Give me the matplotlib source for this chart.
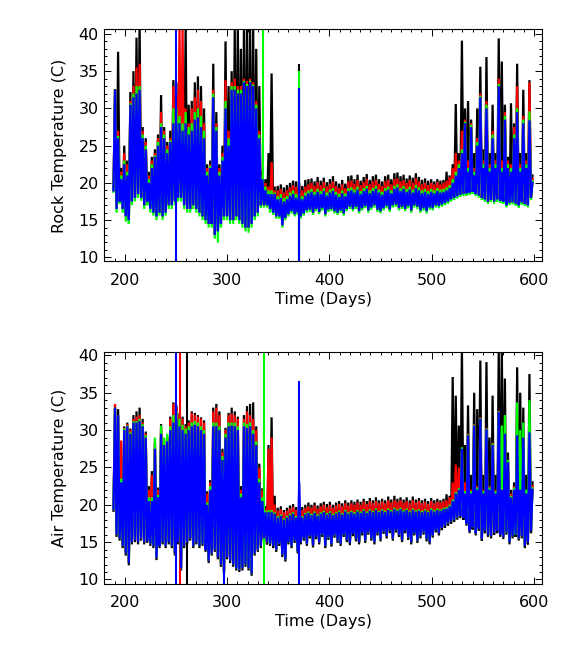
import numpy as np
import matplotlib
matplotlib.use("Agg")
import matplotlib.pyplot as plt
from matplotlib.ticker import MultipleLocator

# sample days (one daily low / daily high pair every 3 days)
days = np.arange(189, 598, 3)

# ---- Rock temperature (top panel) ----
rock_blue_hi = [32.5, 26, 20.5, 22.5, 21, 30.5, 31.5, 32, 32.5, 26,
                24.5, 20, 22, 23.5, 25, 27.5, 26, 24, 25.5, 28,
                28, 28, 27, 28, 26.5, 27, 28.5, 28.8, 27.5, 26,
                21, 22, 31.5, 27, 21, 23, 30, 25, 32.5, 32.5,
                32, 32, 33.5, 33, 33.5, 33, 30, 26, 20.5, 19,
                18.5, 18.5, 18.5, 17.8, 18, 17.5, 17.8, 18.3, 18.5, 18,
                18.2, 17.8, 18.3, 18.6, 18.8, 18.4, 18.8, 18.5, 18.9, 18.3,
                18.7, 18.9, 18.4, 18.1, 18.6, 18.2, 18.9, 19, 18.7, 19.1,
                18.5, 18.9, 19.2, 18.6, 18.9, 19.2, 18.7, 18.4, 18.9, 19.1,
                18.6, 19.2, 19.4, 18.9, 19.2, 18.8, 19.1, 18.7, 19.3, 19,
                18.6, 18.8, 18.5, 18.8, 18.6, 18.9, 18.7, 18.8, 19, 19.3,
                20, 21, 22, 24, 28, 21.5, 27.5, 21, 25, 31.5,
                22, 30, 21.5, 26, 22, 33, 21.5, 28.5, 22, 21.5,
                26, 29.5, 21.5, 28, 22, 28.4, 20]
rock_red_hi = [32.5, 27, 21.5, 24, 22.5, 31, 33, 35.5, 36, 27,
               25.5, 21, 23, 24, 26, 29.5, 27, 25, 26, 33,
               32, 41, 41, 30, 28, 30, 31.5, 32.5, 31, 28,
               22, 22.5, 32.5, 28, 22, 24, 33.8, 27, 33.5, 34,
               33, 33, 34, 33.7, 34, 33.5, 31, 27, 21, 20,
               19.5, 22.8, 19, 19, 19.2, 18.7, 19, 19.4, 19.7, 19.5,
               19.5, 19, 19.5, 19.8, 20, 19.6, 20.1, 19.7, 20.1, 19.5,
               19.9, 20.2, 19.6, 19.3, 19.8, 19.3, 20.2, 20.3, 19.9, 20.4,
               19.7, 20.1, 20.5, 19.8, 20.2, 20.4, 19.9, 19.6, 20.2, 20.4,
               19.8, 20.5, 20.6, 20.2, 20.4, 20, 20.4, 20, 20.6, 20.2,
               19.8, 20, 19.7, 20, 19.8, 20.1, 19.8, 20, 20.3, 20.8,
               22, 24, 23, 27, 28.5, 23, 28, 22, 26, 32,
               23, 31, 22.5, 27, 23, 34, 23, 29.5, 23, 22.5,
               27.5, 33, 22.5, 29, 23, 33.5, 20.5]
rock_green_hi = [32.5, 26.3, 21, 23, 21.5, 30.7, 32, 33, 33, 26.5,
                 25, 20.5, 22.5, 23.7, 25.5, 28, 26.5, 24.5, 25.7, 30,
                 30, 29, 28, 29.5, 27.5, 28, 29.5, 30, 29, 27,
                 21.5, 22.3, 32, 27.5, 21.5, 23.5, 31, 26, 33, 33,
                 32.5, 32.5, 33.7, 33.3, 33.7, 33.2, 30.5, 26.5, 20.7, 19.5,
                 19, 19, 18.7, 18.2, 18.5, 18, 18.2, 18.7, 19, 18.5,
                 18.6, 18.2, 18.7, 19, 19.2, 18.8, 19.2, 18.9, 19.3, 18.7,
                 19.1, 19.3, 18.8, 18.5, 19, 18.6, 19.3, 19.4, 19.1, 19.5,
                 18.9, 19.3, 19.6, 19, 19.3, 19.6, 19.1, 18.8, 19.3, 19.5,
                 19, 19.6, 19.8, 19.3, 19.6, 19.2, 19.5, 19.1, 19.7, 19.4,
                 19, 19.2, 18.9, 19.2, 19, 19.3, 19.1, 19.2, 19.4, 19.7,
                 20.5, 21.5, 22.5, 24.5, 28.2, 22, 27.8, 21.5, 25.5, 31.7,
                 22.5, 30.5, 22, 26.5, 22.5, 33.3, 22, 29, 22.5, 22,
                 26.5, 30, 22, 28.5, 22.5, 29.6, 20.2]
rock_black_hi = [32.6, 37.6, 22, 25, 23, 32.2, 35, 39.5, 41.5, 27.5,
                 26, 21.5, 23.5, 24.5, 26.5, 31.8, 27.5, 25.5, 27, 33.8,
                 33.5, 30, 29.5, 41, 30.5, 31, 33.5, 34.3, 33, 30,
                 22.5, 23, 36, 29.5, 22.5, 25, 39, 33, 35, 41,
                 41, 38, 41, 41, 41, 41, 38, 33, 21.5, 20.5,
                 24, 34.7, 19.5, 19.6, 19.8, 19.4, 19.7, 20, 20.3, 20.2,
                 20, 19.6, 20.4, 20.5, 20.6, 20.2, 20.8, 20.3, 20.7, 20.1,
                 20.5, 20.9, 20.2, 19.9, 20.4, 19.9, 20.9, 21, 20.5, 21.1,
                 20.3, 20.8, 21.2, 20.4, 20.9, 21.1, 20.5, 20.2, 20.9, 21.1,
                 20.5, 21.3, 21.4, 20.9, 21.1, 20.6, 21, 20.7, 21.3, 20.8,
                 20.4, 20.6, 20.3, 20.5, 20.2, 20.5, 20.3, 20.4, 21.5, 21,
                 22.5, 30.6, 24, 39.1, 30, 31, 28.5, 24, 30, 35.6,
                 24.5, 36.9, 24, 30.5, 24, 39.4, 36.3, 30.5, 23.5, 30.7,
                 28, 36, 24, 32.5, 24, 33.8, 21]
rock_blue_lo = [19, 16.5, 17.5, 16.5, 15.5, 15, 17.5, 18, 18.5, 18,
                17, 17.5, 16.5, 16, 15.5, 16, 15.5, 16, 17, 17,
                17.5, 18, 18, 17, 16.5, 16.5, 17, 16.5, 16, 15.5,
                15, 14.5, 14.5, 13, 13.5, 14.5, 15.5, 15.5, 15, 15,
                15.5, 15, 14.5, 14, 14, 14.5, 15.5, 16, 17, 17,
                17, 16.5, 16, 15.5, 15.5, 14.3, 15.3, 15.8, 16.2, 15.8,
                16, 15.5, 15.9, 16.3, 16.4, 16, 16.5, 16.1, 16.6, 15.8,
                16.4, 16.5, 16.2, 16, 16.3, 15.9, 16.5, 16.8, 16.5, 16.8,
                16.2, 16.6, 16.9, 16.3, 16.7, 17, 16.4, 16.2, 16.6, 16.9,
                16.4, 17, 17.1, 16.6, 16.8, 16.5, 16.9, 16.3, 17, 16.8,
                16.3, 16.6, 16.2, 16.7, 16.6, 17, 16.9, 17.1, 17.3, 17.5,
                17.8, 18, 18.2, 18.4, 18.5, 18.6, 18.7, 18.8, 18.5, 18.3,
                18, 17.8, 17.5, 17.7, 17.5, 17.8, 17.6, 17.5, 17, 17.3,
                17.4, 17.2, 17, 17.4, 17.2, 17, 18]
rock_green_lo = [18.8, 16, 17.2, 16, 14.8, 14.5, 17, 17.5, 18, 17.6,
                 16.5, 17, 16, 15.6, 15, 15.6, 15, 15.6, 16.5, 16.5,
                 17, 17.5, 17.5, 16.5, 16, 16, 16.5, 16, 15.5, 15,
                 14.5, 14, 14, 12.5, 12, 14, 15, 15, 14.5, 14.5,
                 15, 14.5, 14, 13.5, 13.3, 14, 15, 15.5, 16.7, 16.7,
                 16.7, 16, 15.7, 15.2, 15.2, 14, 15, 15.5, 15.9, 15.5,
                 15.7, 15.2, 15.6, 16, 16.1, 15.7, 16.2, 15.8, 16.3, 15.5,
                 16.1, 16.2, 15.9, 15.7, 16, 15.6, 16.2, 16.5, 16.2, 16.5,
                 15.9, 16.3, 16.6, 16, 16.4, 16.7, 16.1, 15.9, 16.3, 16.6,
                 16.1, 16.7, 16.8, 16.3, 16.5, 16.2, 16.6, 16, 16.7, 16.5,
                 16, 16.3, 15.9, 16.4, 16.3, 16.7, 16.6, 16.8, 17, 17.2,
                 17.5, 17.7, 17.9, 18.1, 18.2, 18.3, 18.4, 18.5, 18.2, 18,
                 17.7, 17.5, 17.2, 17.4, 17.2, 17.5, 17.3, 17.2, 16.7, 17,
                 17.1, 16.9, 16.7, 17.1, 16.9, 16.7, 17.7]
# single-reading glitches: day, colour, low, high
rock_glitch_day = [250, 335, 370.4, 370.4, 370.4]
rock_glitch_col = ['blue', 'green', 'black', 'green', 'blue']
rock_glitch_lo = [9, 19.5, 9, 9, 9]
rock_glitch_hi = [41, 41, 36, 35, 32.7]

# ---- Air temperature (bottom panel) ----
air_blue_hi = [33, 32, 23, 30, 30.5, 29.5, 31, 31, 31.2, 30.5,
               29, 20.5, 20.5, 27.5, 21, 29.5, 28, 28.5, 30, 31,
               31.5, 30.5, 30, 29.5, 30, 30.5, 30.7, 30.5, 30, 29.5,
               20, 22, 30.5, 30.5, 30, 26, 29, 30.5, 30.6, 30.5,
               30, 21, 30.5, 30.3, 30.5, 29.5, 28, 23, 20.5, 19,
               19, 19, 18.8, 18.3, 18.5, 18, 18.3, 18.6, 18.8, 18.3,
               23, 18.3, 18.7, 18.9, 18.6, 18.9, 18.5, 18.8, 19, 18.7,
               18.9, 18.6, 18.8, 19, 18.7, 19.1, 18.8, 19, 18.8, 19.1,
               18.9, 19.2, 18.9, 19.2, 19, 19.3, 19, 19.2, 19, 19.3,
               19.1, 19.4, 19.2, 19.4, 19.1, 19.3, 19, 19.3, 19.1, 19.2,
               19, 19.2, 19, 19.3, 19.1, 19.3, 19.2, 19.4, 19.5, 19.8,
               20.5, 21.5, 22, 27.5, 21.5, 29.3, 21.5, 30.6, 22, 31.5,
               21.5, 30.1, 22, 28, 21.5, 32.4, 22, 29.5, 25.7, 21,
               22, 29.3, 22, 29, 21.5, 29.7, 22]
air_red_hi = [33.5, 32, 28.6, 30.3, 30.8, 30, 31.5, 31.8, 32, 31,
              29.5, 22, 24, 28.3, 22, 30.5, 28.5, 29, 31.5, 33.5,
              33, 32, 31.5, 30.5, 31, 32.3, 32, 31.8, 31.5, 31,
              21.5, 23, 32.5, 33, 32, 27, 30, 32, 32.2, 32,
              31.5, 22, 31.5, 32.5, 32, 31.5, 30, 25, 21.9, 19.5,
              27.5, 29, 20, 19.2, 19.4, 19, 19.2, 19.5, 19.7, 19.3,
              19.5, 19.3, 19.6, 19.8, 19.6, 19.9, 19.5, 19.8, 20, 19.7,
              20, 19.6, 19.9, 20.1, 19.8, 20.2, 19.9, 20.2, 20, 20.3,
              20, 20.4, 20.1, 20.5, 20.2, 20.5, 20.2, 20.4, 20.2, 20.6,
              20.3, 20.6, 20.4, 20.6, 20.3, 20.5, 20.2, 20.6, 20.3, 20.5,
              20.2, 20.4, 20.1, 20.5, 20.2, 20.4, 20.3, 20.5, 20.6, 21,
              23, 25.4, 25, 27, 23, 29.5, 22, 30.8, 22.5, 31.7,
              22, 30.3, 22.5, 28.3, 22, 32.6, 22.5, 29.8, 26, 21.5,
              22.5, 29.5, 22.5, 29.2, 22, 30, 22.5]
air_green_hi = [33, 32, 23.5, 30.2, 30.6, 29.7, 31.2, 31.2, 31.5, 30.8,
                29.3, 21, 21, 29, 21.3, 30.6, 29, 29.5, 30.5, 32,
                32.5, 31.5, 30.7, 30.2, 30.5, 31, 31.2, 31, 30.5, 30,
                20.3, 22.5, 31, 31, 30.5, 26.5, 29.5, 31, 31, 31,
                30.5, 21.5, 31, 30.8, 31, 30, 28.5, 23.5, 21, 19.2,
                19.3, 19.3, 19, 18.5, 18.7, 18.2, 18.5, 18.8, 19, 18.5,
                18.8, 18.5, 18.9, 19.1, 18.8, 19.1, 18.7, 19, 19.2, 18.9,
                19.1, 18.8, 19, 19.2, 18.9, 19.3, 19, 19.2, 19, 19.3,
                19.1, 19.4, 19.1, 19.4, 19.2, 19.5, 19.2, 19.4, 19.2, 19.5,
                19.3, 19.6, 19.4, 19.6, 19.3, 19.5, 19.2, 19.5, 19.3, 19.4,
                19.2, 19.4, 19.2, 19.5, 19.3, 19.5, 19.4, 19.6, 19.7, 20,
                20.7, 21.7, 22.2, 27.7, 21.8, 29.4, 21.8, 30.7, 22.3, 31.6,
                21.8, 30.2, 22.3, 28.2, 21.8, 32.5, 30.6, 32, 26, 21.2,
                22.3, 33.7, 30, 31, 22, 34, 22.2]
air_black_hi = [33.3, 32.8, 24, 30.5, 31, 30.2, 32, 32.5, 33, 31.5,
                29.8, 22.5, 24.5, 28.5, 22.3, 30.8, 28.8, 29.2, 31.8, 33.7,
                33.3, 32.3, 31.8, 30.8, 31.3, 32.5, 32.3, 32, 31.7, 31.3,
                21.8, 23.3, 33, 33.5, 32.5, 27.5, 30.3, 32.3, 33, 32.5,
                31.8, 22.5, 32, 33.2, 33.5, 33.7, 30.5, 25.5, 22.2, 19.8,
                28, 31.7, 21.2, 19.6, 19.8, 19.3, 19.6, 19.9, 20.1, 19.7,
                19.9, 19.7, 20, 20.3, 20, 20.3, 19.9, 20.2, 20.4, 20.1,
                20.4, 20, 20.3, 20.5, 20.2, 20.6, 20.3, 20.6, 20.4, 20.7,
                20.4, 20.8, 20.5, 20.9, 20.6, 21, 20.6, 20.8, 20.6, 21.1,
                20.7, 21.2, 20.8, 21, 20.7, 21, 20.6, 21.1, 20.7, 20.9,
                20.6, 20.8, 20.5, 20.9, 20.6, 20.8, 20.6, 20.8, 21.4, 21.2,
                37.1, 34.6, 30.6, 41, 28, 33.3, 24, 35, 32.8, 39.3,
                24, 39.1, 29, 34.6, 24, 41, 41, 36.9, 27, 22,
                23, 38.4, 35, 33, 24, 37.5, 23]
air_blue_lo = [19.5, 16, 15.5, 14.5, 13.5, 12.2, 15, 15.3, 15, 15.5,
               15, 15.2, 14.8, 14.5, 12.9, 14.5, 15, 14.5, 15, 14.5,
               13.5, 15, 11.5, 14.5, 15, 15.5, 14.5, 15, 14.5, 14.8,
               14, 12.5, 13.5, 14, 13, 12, 11, 13, 12.5, 12,
               11.5, 11.3, 11.5, 12, 11.5, 10.8, 13.5, 14, 14.5, 15.5,
               15, 14.8, 14.5, 14, 14.8, 13.3, 12.7, 15, 14.5, 15.2,
               13.8, 15, 15.5, 14.8, 15.8, 14.6, 15.7, 15, 16, 14.5,
               15.6, 14.7, 15.9, 15.2, 14.8, 16, 15.3, 14.9, 16.1, 15.4,
               15, 16.2, 15.2, 16.3, 15.5, 15, 16.2, 15.4, 16.4, 15.8,
               16.5, 15.5, 16.6, 16, 15.3, 16.5, 15.6, 15, 16.2, 15.2,
               15.8, 16.3, 15.4, 15, 15.9, 16.6, 16.2, 16.9, 17.2, 17.5,
               17.8, 18, 18.3, 18.5, 18.3, 17.5, 16.5, 17, 16.2, 16.8,
               15.5, 16.5, 16, 15.8, 16.3, 16.5, 16, 15.7, 16.3, 15,
               15.8, 16, 15.5, 15.8, 14.5, 15, 16.5]
air_black_lo = [19.2, 15.7, 15.2, 14.2, 13.2, 11.9, 14.7, 15, 14.7, 15.2,
                14.7, 14.9, 14.5, 14.2, 12.6, 14.2, 14.7, 14.2, 14.7, 14.2,
                13.2, 14.7, 11.2, 14.2, 14.7, 15.2, 14.2, 14.7, 14.2, 14.5,
                13.7, 12.2, 13.2, 13.7, 12.7, 11.7, 10.7, 12.7, 12.2, 11.7,
                11.2, 11, 11.2, 11.7, 11.2, 10.5, 13.2, 13.7, 14.2, 15.2,
                14.7, 14.5, 14.2, 13.7, 14.5, 13, 12.4, 14.7, 14.2, 14.9,
                13.5, 14.7, 15.2, 14.5, 15.5, 14.3, 15.4, 14.7, 15.7, 14.2,
                15.3, 14.4, 15.6, 14.9, 14.5, 15.7, 15, 14.6, 15.8, 15.1,
                14.7, 15.9, 14.9, 16, 15.2, 14.7, 15.9, 15.1, 16.1, 15.5,
                16.2, 15.2, 16.3, 15.7, 15, 16.2, 15.3, 14.7, 15.9, 14.9,
                15.5, 16, 15.1, 14.7, 15.6, 16.3, 15.9, 16.6, 16.9, 17.2,
                17.5, 17.7, 18, 18.2, 18, 17.2, 16.2, 16.7, 15.9, 16.5,
                15.2, 16.2, 15.7, 15.5, 16, 16.2, 15.7, 15.4, 16, 14.7,
                15.5, 15.7, 15.2, 15.5, 14.2, 14.7, 16.2]
air_glitch_day = [250.5, 254, 260.5, 336, 370.4, 297]
air_glitch_col = ['blue', 'red', 'black', 'green', 'blue', 'blue']
air_glitch_lo = [9, 9, 9, 9, 9, 9]
air_glitch_hi = [41, 41, 41, 41, 36.6, 16]

colors = {'black': '#000000', 'red': '#ff0000', 'green': '#00ff00', 'blue': '#0000ff'}


def zigzag(lo, hi):
    # daily low at the sample day, daily high half way to the next sample
    x = np.empty(2 * len(days))
    y = np.empty(2 * len(days))
    x[0::2] = days
    x[1::2] = days + 1.5
    y[0::2] = lo
    y[1::2] = hi
    return x, y


fig = plt.figure(figsize=(5.73, 6.45), dpi=100)
fs = 11.5

panels = [
    ([0.182, 0.5946, 0.7634, 0.3597], 'Rock Temperature (C)', (9.45, 40.6),
     [('black', rock_blue_lo, rock_black_hi), ('red', rock_blue_lo, rock_red_hi),
      ('green', rock_green_lo, rock_green_hi), ('blue', rock_blue_lo, rock_blue_hi)],
     (rock_glitch_day, rock_glitch_col, rock_glitch_lo, rock_glitch_hi)),
    ([0.182, 0.0946, 0.7634, 0.3597], 'Air Temperature (C)', (9.4, 40.45),
     [('black', air_black_lo, air_black_hi), ('red', air_blue_lo, air_red_hi),
      ('green', air_blue_lo, air_green_hi), ('blue', air_blue_lo, air_blue_hi)],
     (air_glitch_day, air_glitch_col, air_glitch_lo, air_glitch_hi)),
]

for rect, ylab, ylim, series, glitches in panels:
    ax = fig.add_axes(rect)
    gday, gcol, glo, ghi = glitches
    for name, lo, hi in series:
        x, y = zigzag(lo, hi)
        ax.plot(x, y, color=colors[name], lw=1.6, solid_joinstyle='miter')
        sel = [i for i, c in enumerate(gcol) if c == name]
        if sel:
            ax.vlines([gday[i] for i in sel], [glo[i] for i in sel], [ghi[i] for i in sel],
                      color=colors[name], lw=1.5)
    ax.set_xlim(180, 607.5)
    ax.set_ylim(*ylim)
    ax.xaxis.set_major_locator(MultipleLocator(100))
    ax.xaxis.set_minor_locator(MultipleLocator(10))
    ax.yaxis.set_major_locator(MultipleLocator(5))
    ax.yaxis.set_minor_locator(MultipleLocator(1))
    ax.tick_params(which='both', direction='in', top=True, right=True, width=0.7,
                   labelsize=fs)
    ax.tick_params(axis='x', pad=8)
    ax.tick_params(axis='y', pad=4)
    ax.tick_params(which='major', length=5)
    ax.tick_params(which='minor', length=2.5)
    for s in ax.spines.values():
        s.set_linewidth(0.8)
    ax.set_xlabel('Time (Days)', fontsize=fs, labelpad=3)
    ax.set_ylabel(ylab, fontsize=fs, labelpad=8)

fig.savefig('out.png', dpi=100)
